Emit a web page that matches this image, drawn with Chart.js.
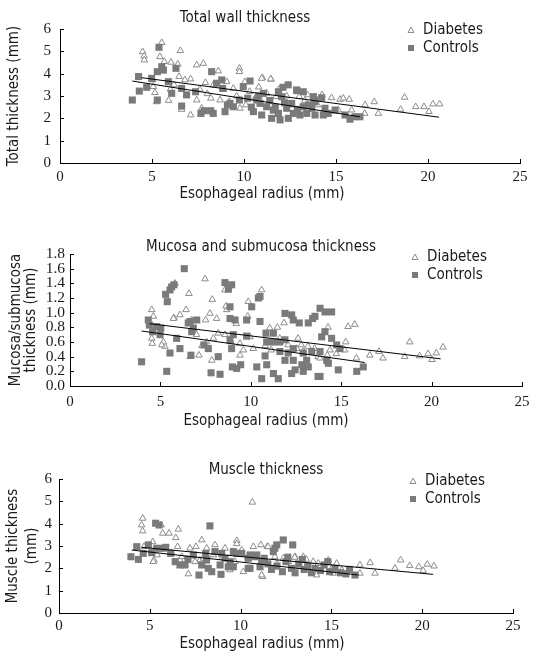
<!DOCTYPE html>
<html>
<head>
<meta charset="utf-8">
<script src="https://cdn.jsdelivr.net/npm/chart.js@4"></script>
<style>
  body { margin: 0; background: #fff; }
  .box { position: absolute; left: 0; width: 536px; }
</style>
</head>
<body>
<div class="box" style="top:0"><canvas id="c1" width="536" height="220"></canvas></div>
<div class="box" style="top:220px"><canvas id="c2" width="536" height="225"></canvas></div>
<div class="box" style="top:445px"><canvas id="c3" width="536" height="223"></canvas></div>
<script>
// x = esophageal radius (mm), y = thickness (mm)
const xTicks = [0, 5, 10, 15, 20, 25];
const seriesNames = ["Diabetes", "Controls"];

const wallDiabetes = [[4.49,4.98],[4.57,4.79],[4.58,4.61],[5.53,5.39],[5.43,4.76],[6.03,4.51],[5.67,4.54],[6.40,4.42],[6.54,5.03],[7.43,4.39],[7.79,4.46],[8.6,4.12],[9.75,4.24],[9.75,4.09],[11.0,3.82],[5.07,3.42],[5.04,3.72],[5.25,2.74],[5.16,3.15],[6.47,3.87],[6.79,3.72],[7.1,3.76],[6.61,2.4],[7.1,2.15],[7.43,2.82],[8.33,3.49],[8.7,2.82],[9.06,3.64],[9.42,3.34],[9.78,2.45],[10.05,3.64],[7.7,2.45],[7.6,3.3],[7.9,3.6],[8.0,3.1],[8.2,2.9],[9.2,2.75],[9.6,3.0],[10.3,3.2],[10.6,2.9],[10.8,3.4],[10.96,3.79],[11.47,3.75],[11.23,3.12],[11.74,2.97],[12.32,3.0],[13.0,2.97],[13.46,3.05],[14.24,3.05],[14.76,2.92],[15.22,2.85],[15.4,2.9],[15.72,2.85],[16.58,2.6],[17.08,2.74],[17.3,2.22],[15.13,2.37],[15.85,2.37],[16.56,2.22],[18.73,2.94],[18.51,2.4],[19.33,2.52],[19.78,2.52],[20.05,2.3],[20.27,2.64],[20.63,2.64],[11.45,3.76],[12.6,2.6],[13.3,2.8],[14.0,2.6],[11.9,3.3],[6.0,3.3],[6.2,3.5],[5.9,2.8],[8.9,3.3],[10.1,2.6]];
const wallControls = [[3.93,2.82],[4.27,3.87],[4.31,3.22],[4.71,3.39],[4.98,3.79],[5.29,2.82],[5.38,5.18],[5.29,4.09],[5.53,4.31],[5.62,4.16],[5.89,3.64],[6.07,3.12],[6.3,4.24],[6.61,3.34],[6.61,2.55],[6.88,3.05],[7.37,3.19],[7.66,2.22],[7.83,2.34],[8.24,4.09],[8.19,2.34],[8.33,2.22],[8.51,3.57],[8.79,3.72],[8.84,3.34],[8.97,2.3],[9.24,2.67],[9.42,2.52],[9.75,2.82],[9.96,3.42],[10.33,3.67],[10.51,2.3],[10.69,2.82],[10.8,3.0],[12.12,3.39],[11.87,3.19],[12.86,3.27],[13.22,3.19],[13.77,2.97],[14.22,2.92],[13.86,2.74],[11.05,3.12],[10.87,2.67],[11.23,2.52],[11.59,2.37],[11.87,2.22],[12.32,2.45],[12.68,2.22],[13.04,2.15],[12.59,2.67],[13.22,2.52],[13.41,2.22],[13.86,2.15],[14.31,2.15],[14.4,2.45],[10.96,2.15],[11.5,2.0],[11.96,1.93],[12.41,2.0],[13.68,2.45],[14.58,2.22],[14.95,2.37],[15.49,2.15],[15.76,1.96],[16.03,2.07],[16.3,2.07],[12.05,2.97],[12.88,3.24],[13.84,2.82],[11.4,2.8],[12.2,2.7],[10.4,2.5],[11.7,2.5],[12.9,2.4],[9.1,2.6],[10.2,2.9],[12.4,3.5],[13.5,2.6]];
const wallDiabetesFit = [[4.44,3.82],[20.6,2.05]];
const wallControlsFit = [[3.93,3.67],[16.3,2.07]];

const mucosaDiabetes = [[4.52,1.04],[4.61,0.95],[4.52,0.65],[4.55,0.58],[5.25,0.54],[5.16,0.6],[5.81,1.4],[5.75,0.93],[6.08,0.97],[6.42,1.04],[6.58,1.26],[7.47,1.46],[7.87,1.18],[7.74,0.99],[7.5,0.9],[8.11,0.92],[8.67,1.04],[8.57,1.31],[6.64,0.4],[7.13,0.42],[7.84,0.35],[7.56,0.6],[7.93,0.65],[8.2,0.72],[8.57,0.7],[7.0,0.7],[6.73,0.9],[9.86,1.15],[9.83,0.95],[9.96,0.67],[9.4,0.58],[9.59,0.49],[10.14,0.51],[10.6,1.31],[9.4,0.42],[5.72,0.92],[5.07,0.56],[8.63,1.09],[11.84,0.86],[11.47,0.8],[11.05,0.79],[11.6,0.65],[12.61,0.65],[14.27,0.8],[15.38,0.81],[15.75,0.84],[15.25,0.6],[15.84,0.38],[16.58,0.42],[17.09,0.47],[17.31,0.38],[18.79,0.6],[18.51,0.4],[19.34,0.41],[19.8,0.44],[20.02,0.36],[20.26,0.45],[20.63,0.53],[14.73,0.44],[14.23,0.42],[13.72,0.4],[13.16,0.54],[12.79,0.56],[12.06,0.56],[11.13,0.49],[13.53,0.51],[15.19,0.49],[12.54,0.51],[12.9,0.47],[14.38,0.49],[13.83,0.38],[10.8,0.55],[11.4,0.6],[8.9,0.6],[9.2,0.85],[7.3,0.55]];
const mucosaControls = [[3.96,0.33],[4.33,0.9],[4.39,0.83],[4.57,0.74],[4.79,0.81],[5.02,0.79],[5.35,0.2],[5.29,1.25],[5.38,1.15],[5.53,1.31],[5.75,1.38],[5.62,1.35],[5.53,0.45],[5.9,0.65],[6.08,0.51],[6.32,1.6],[6.54,0.86],[6.73,0.74],[7.01,0.9],[6.82,0.79],[6.64,0.88],[6.69,0.42],[7.41,0.56],[7.65,0.51],[7.8,0.18],[8.3,0.16],[8.2,0.4],[8.57,1.41],[8.76,1.32],[8.94,1.38],[8.85,1.08],[8.85,0.92],[8.85,0.63],[8.94,0.51],[8.98,0.26],[9.22,0.24],[9.44,0.29],[9.77,0.9],[9.77,0.68],[10.05,1.08],[10.33,0.26],[10.42,1.2],[10.6,0.1],[10.79,0.41],[9.13,0.9],[9.03,0.7],[4.98,0.7],[10.51,1.22],[10.51,0.88],[10.84,0.72],[11.25,0.72],[10.88,0.6],[11.25,0.6],[11.61,0.6],[11.89,0.63],[10.88,0.29],[11.25,0.17],[11.89,0.35],[11.52,0.1],[12.26,0.17],[12.45,0.22],[12.9,0.2],[12.82,0.29],[12.35,0.35],[13.18,0.26],[11.61,0.47],[12.07,0.45],[12.35,0.51],[12.9,0.45],[13.09,0.35],[13.37,0.47],[13.83,0.47],[14.2,0.35],[13.83,0.13],[14.84,0.22],[15.86,0.2],[16.22,0.26],[11.89,0.99],[12.26,0.97],[12.35,0.9],[12.68,0.86],[13.18,0.86],[13.42,0.92],[13.55,0.95],[13.83,1.06],[14.1,1.01],[14.47,1.01],[13.92,0.67],[14.1,0.74],[14.47,0.65],[14.75,0.56],[14.93,0.51],[14.29,0.31],[13.72,0.13]];
const mucosaDiabetesFit = [[4.4,0.85],[20.5,0.37]];
const mucosaControlsFit = [[3.96,0.75],[16.3,0.32]];

const muscleDiabetes = [[4.61,4.24],[4.55,3.94],[4.61,3.67],[4.68,2.97],[5.16,3.19],[5.23,2.37],[5.19,2.3],[5.62,3.94],[5.71,3.57],[6.06,3.57],[6.43,3.37],[6.57,3.75],[6.53,2.97],[6.66,2.37],[7.12,1.75],[7.21,2.9],[7.54,2.97],[7.86,3.27],[7.76,2.37],[8.13,2.9],[8.59,3.05],[9.14,2.9],[9.79,3.24],[9.79,3.1],[10.06,2.82],[10.15,1.85],[10.65,4.96],[10.7,2.97],[11.12,3.05],[11.21,1.63],[9.42,1.93],[6.76,2.52],[7.49,2.3],[7.95,2.45],[9.69,2.3],[8.5,2.6],[9.0,2.5],[11.47,2.97],[11.89,2.52],[12.35,2.45],[12.63,2.3],[13.0,2.52],[13.45,2.52],[14.0,2.3],[14.28,2.22],[14.83,2.37],[15.29,2.22],[15.02,2.0],[15.57,1.93],[16.57,2.15],[17.13,2.25],[17.4,1.78],[16.57,1.78],[18.5,2.0],[18.81,2.37],[19.31,2.12],[19.81,2.07],[20.05,1.9],[20.28,2.18],[20.65,2.1],[11.16,1.7],[14.19,1.7],[15.1,1.78],[13.62,2.4],[12.98,2.49],[11.51,2.97],[12.0,2.2],[13.2,2.1],[10.4,2.5],[6.2,2.7],[5.4,2.6]];
const muscleControls = [[3.96,2.52],[4.28,2.97],[4.37,2.4],[4.64,2.67],[4.92,3.05],[5.32,4.02],[5.51,3.94],[5.38,2.9],[5.74,2.9],[5.88,2.94],[6.15,2.67],[6.66,2.15],[6.94,2.15],[7.4,2.6],[7.71,1.7],[7.86,2.15],[8.08,2.67],[8.31,3.9],[8.22,2.0],[8.41,1.85],[8.87,2.15],[8.92,1.73],[9.42,2.3],[9.6,2.07],[9.79,2.67],[10.42,2.45],[10.42,2.0],[10.89,2.6],[11.07,2.07],[8.59,2.75],[8.96,2.67],[9.14,2.45],[9.6,2.75],[10.06,2.67],[10.52,2.6],[10.79,2.52],[11.16,2.3],[10.52,2.0],[9.32,2.07],[8.13,2.37],[12.35,3.27],[11.99,3.05],[11.89,2.9],[12.87,3.05],[11.8,2.75],[11.5,2.2],[11.7,1.95],[12.0,2.1],[12.3,1.85],[12.5,2.3],[12.8,2.0],[13.0,1.8],[13.2,2.2],[13.5,1.95],[13.7,2.1],[13.9,1.8],[14.1,2.0],[14.4,1.9],[14.6,2.15],[14.9,1.85],[15.2,2.0],[15.5,1.8],[15.8,1.75],[16.0,1.95],[16.3,1.7],[11.3,2.45],[12.6,2.5],[13.4,2.4],[14.8,2.3],[6.4,2.3],[7.1,2.4],[5.1,2.7]];
const muscleDiabetesFit = [[4.55,2.94],[20.6,1.73]];
const muscleControlsFit = [[4.0,2.82],[16.5,1.7]];

const SANS = '"DejaVu Sans Condensed", "Liberation Sans", sans-serif';
const SERIF = '"Liberation Serif", serif';
const TEXT = "#1a1a1a";
const TRI = "#8c8c8c";
const SQ = "#7a7a7a";

const pts = arr => arr.map(([x, y]) => ({ x, y }));

// ticks inside the axes, titles and legend drawn at fixed spots
const decor = {
  id: "decor",
  afterDraw(chart, args, o) {
    const ctx = chart.ctx;
    const { left, bottom } = chart.chartArea;
    ctx.save();
    ctx.strokeStyle = "#000";
    ctx.lineWidth = 1;
    const xs = chart.scales.x, ys = chart.scales.y;
    xs.ticks.forEach(t => {
      const px = Math.round(xs.getPixelForValue(t.value)) + 0.5;
      ctx.beginPath(); ctx.moveTo(px, bottom); ctx.lineTo(px, bottom - 4); ctx.stroke();
    });
    ys.ticks.forEach(t => {
      const py = Math.round(ys.getPixelForValue(t.value)) + 0.5;
      ctx.beginPath(); ctx.moveTo(left, py); ctx.lineTo(left + 4, py); ctx.stroke();
    });

    ctx.fillStyle = TEXT;
    ctx.font = "15px " + SANS;
    ctx.textAlign = "center";
    ctx.textBaseline = "middle";
    ctx.fillText(o.title, o.titleX, o.titleY);
    ctx.fillText("Esophageal radius (mm)", o.xTitleX, o.xTitleY);

    ctx.textAlign = "left";
    seriesNames.forEach((name, i) => {
      const y = o.legendY + i * 18;
      const x = o.legendX;
      if (i === 0) {
        ctx.strokeStyle = TRI;
        ctx.beginPath();
        ctx.moveTo(x, y - 3); ctx.lineTo(x + 3, y + 2.5); ctx.lineTo(x - 3, y + 2.5); ctx.closePath();
        ctx.stroke();
      } else {
        ctx.fillStyle = SQ;
        ctx.fillRect(x - 3, y - 3, 6, 6);
      }
      ctx.fillStyle = TEXT;
      ctx.fillText(name, x + 12, y);
    });
    ctx.restore();
  }
};

function makeChart(id, cfg) {
  const line = data => ({
    type: "scatter", data: pts(data), showLine: true, borderColor: "#000",
    borderWidth: 1, pointRadius: 0, order: 0
  });
  new Chart(document.getElementById(id), {
    type: "scatter",
    data: {
      datasets: [
        { label: seriesNames[0], data: pts(cfg.diabetes), pointStyle: "triangle", radius: 3.8,
          borderColor: TRI, backgroundColor: "#fff", borderWidth: 1, order: 2 },
        { label: seriesNames[1], data: pts(cfg.controls), pointStyle: "rect", radius: 5,
          borderColor: SQ, backgroundColor: SQ, borderWidth: 0, order: 1 },
        line(cfg.diabetesFit),
        line(cfg.controlsFit)
      ]
    },
    plugins: [decor],
    options: {
      responsive: false,
      animation: false,
      events: [],
      layout: { padding: { top: cfg.top, right: cfg.right, left: 0, bottom: 0 } },
      plugins: {
        legend: { display: false },
        tooltip: { enabled: false },
        decor: cfg.decor
      },
      scales: {
        x: {
          type: "linear", min: 0, max: 25,
          afterBuildTicks: s => { s.ticks = xTicks.map(v => ({ value: v })); },
          afterFit: s => { s.height = cfg.xHeight; s.paddingLeft = 0; s.paddingRight = 0; },
          grid: { display: false, drawTicks: false },
          border: { display: true, color: "#000", width: 1 },
          ticks: { autoSkip: false, maxRotation: 0, padding: cfg.xPad, color: TEXT,
            font: { family: SERIF, size: 15 } }
        },
        y: {
          min: 0, max: cfg.yMax,
          afterBuildTicks: s => { s.ticks = cfg.yTicks.map(v => ({ value: v })); },
          afterFit: s => { s.width = cfg.yWidth; s.paddingTop = 0; s.paddingBottom = 0; },
          grid: { display: false, drawTicks: false },
          border: { display: true, color: "#000", width: 1 },
          ticks: { autoSkip: false, padding: cfg.yPad, color: TEXT,
            font: { family: SERIF, size: cfg.yFont, lineHeight: 1 },
            callback: v => cfg.yDigits ? v.toFixed(cfg.yDigits) : v },
          title: { display: true, text: cfg.yTitle, color: TEXT,
            font: { family: SANS, size: 15, lineHeight: cfg.yLine }, padding: { top: cfg.yTitlePad } }
        }
      }
    }
  });
}

makeChart("c1", {
  diabetes: wallDiabetes, controls: wallControls,
  diabetesFit: wallDiabetesFit, controlsFit: wallControlsFit,
  yMax: 6, yTicks: [0, 1, 2, 3, 4, 5, 6], yDigits: 0, yFont: 15,
  yTitle: "Total thickness (mm)", yLine: 1.2, yTitlePad: 5,
  top: 29, right: 16, xHeight: 57, yWidth: 60, xPad: 5, yPad: 9,
  decor: { title: "Total wall thickness", titleX: 245, titleY: 18, xTitleX: 262, xTitleY: 194,
    legendX: 411, legendY: 30 }
});

makeChart("c2", {
  diabetes: mucosaDiabetes, controls: mucosaControls,
  diabetesFit: mucosaDiabetesFit, controlsFit: mucosaControlsFit,
  yMax: 1.8, yTicks: [0, 0.2, 0.4, 0.6, 0.8, 1.0, 1.2, 1.4, 1.6, 1.8], yDigits: 1, yFont: 15.5,
  yTitle: ["Mucosa/submucosa", "thickness (mm)"], yLine: 1.0, yTitlePad: 8.5,
  top: 34, right: 14, xHeight: 59, yWidth: 70, xPad: 7, yPad: 5,
  decor: { title: "Mucosa and submucosa thickness", titleX: 261, titleY: 27, xTitleX: 266, xTitleY: 201,
    legendX: 415, legendY: 37 }
});

makeChart("c3", {
  diabetes: muscleDiabetes, controls: muscleControls,
  diabetesFit: muscleDiabetesFit, controlsFit: muscleControlsFit,
  yMax: 6, yTicks: [0, 1, 2, 3, 4, 5, 6], yDigits: 0, yFont: 15,
  yTitle: ["Muscle thickness", "(mm)"], yLine: 1.27, yTitlePad: 4,
  top: 34, right: 23, xHeight: 55, yWidth: 59, xPad: 4, yPad: 7,
  decor: { title: "Muscle thickness", titleX: 266, titleY: 25, xTitleX: 262, xTitleY: 199,
    legendX: 413, legendY: 36 }
});
</script>
</body>
</html>
